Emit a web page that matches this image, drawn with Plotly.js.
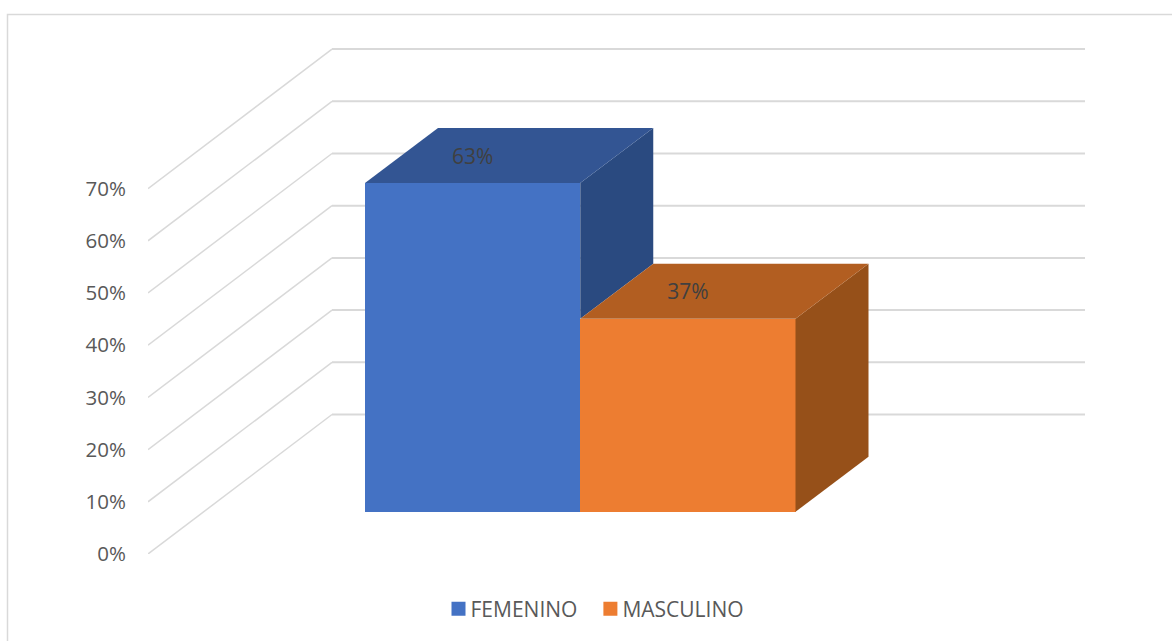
<!DOCTYPE html>
<html>
<head>
<meta charset="utf-8">
<script src="https://cdn.plot.ly/plotly-3.0.1.min.js"></script>
<style>html,body{margin:0;padding:0;background:#fff}#chart{width:1172px;height:641px}</style>
</head>
<body>
<div id="chart"></div>
<script>
const categories = ['FEMENINO', 'MASCULINO'];
const values = [63, 37];
const tickValues = [0, 10, 20, 30, 40, 50, 60, 70];
const frontColors = ['#4472C4', '#ED7D31'];
const topColors = ['#335593', '#B25E21'];
const sideColors = ['#2A4A80', '#965019'];

const W = 1172, H = 641;
const plotL = 148, plotR = 1085, plotT = 40, plotB = 554;
const pxPerX = 215.25, pxPerY = 5.22, bar0Left = 365;
const xMin = -0.5 - (bar0Left - plotL) / pxPerX;
const xMax = -0.5 + (plotR - bar0Left) / pxPerX;
const yMax = (plotB - plotT) / pxPerY;
const wallDx = 184 / pxPerX, wallDy = 139.5 / pxPerY;
const barDx = 73 / pxPerX, barDy = 55 / pxPerY;
const floorBase = 42.2 / pxPerY;
const labelLift = 24.5 / pxPerY;
const gridColor = '#D9D9D9', font = '"Open Sans", "Noto Sans", sans-serif';

const traces = [];
// Front faces are real bars
categories.forEach((name, i) => {
  traces.push({type: 'bar', x: [i], y: [values[i]], base: [floorBase], width: [1], name,
    marker: {color: frontColors[i], line: {width: 0}}, hoverinfo: 'name+y', showlegend: true});
});
// Side and top faces projected from the same values
function face(xs, ys, color) {
  traces.push({type: 'scatter', mode: 'lines', x: xs, y: ys, fill: 'toself', fillcolor: color,
    line: {width: 0, color}, hoverinfo: 'skip', showlegend: false, cliponaxis: false});
}
categories.forEach((name, i) => {
  const l = i - 0.5, r = i + 0.5, top = floorBase + values[i];
  // a side face is hidden below the top of the neighbouring bar in front of it
  const low = i + 1 < values.length ? floorBase + Math.min(values[i], values[i + 1]) : floorBase;
  face([r, r + barDx, r + barDx, r, r], [low, low + barDy, top + barDy, top, low], sideColors[i]);
  face([l, l + barDx, r + barDx, r, l], [top, top + barDy, top + barDy, top, top], topColors[i]);
});
// Value labels on the top faces
traces.push({type: 'scatter', mode: 'text', x: categories.map((c, i) => i),
  y: values.map(v => floorBase + v + labelLift), text: values.map(v => v + '%'),
  textposition: 'middle center', textfont: {family: font, size: 21, color: '#404040'},
  hoverinfo: 'skip', showlegend: false, cliponaxis: false});

// Walls: gridlines on side and back wall, under the bars
const shapes = [];
tickValues.forEach(v => {
  shapes.push({type: 'line', layer: 'below', xref: 'x', yref: 'y', x0: xMin, y0: v, x1: xMin + wallDx, y1: v + wallDy,
    line: {color: gridColor, width: 1.5}});
  shapes.push({type: 'line', layer: 'below', xref: 'x', yref: 'y', x0: xMin + wallDx, y0: v + wallDy, x1: xMax, y1: v + wallDy,
    line: {color: gridColor, width: 2}});
});
// Chart frame: top and left edges only
const px = x => (x - plotL) / (plotR - plotL);
const py = y => (plotB - y) / (plotB - plotT);
shapes.push({type: 'path', layer: 'below', xref: 'paper', yref: 'paper',
  path: `M${px(7.5)},${py(H)} L${px(7.5)},${py(14.5)} L${px(W)},${py(14.5)}`,
  line: {color: gridColor, width: 1.5}});

const layout = {
  width: W, height: H, paper_bgcolor: '#fff', plot_bgcolor: 'rgba(0,0,0,0)',
  margin: {l: plotL, r: W - plotR, t: plotT, b: H - plotB, pad: 0},
  barmode: 'overlay', bargap: 0, showlegend: true,
  xaxis: {range: [xMin, xMax], visible: false, fixedrange: true},
  yaxis: {range: [0, yMax], tickmode: 'array', tickvals: tickValues, ticktext: tickValues.map(v => v + '%'),
    showgrid: false, zeroline: false, showline: false, ticks: 'outside', ticklen: 17, tickcolor: 'rgba(0,0,0,0)',
    tickfont: {family: font, size: 20.5, color: '#595959'}, fixedrange: true},
  legend: {orientation: 'h', x: 430.5 / W, xanchor: 'left', xref: 'container', y: (H - 609) / H, yref: 'container', yanchor: 'middle',
    font: {family: font, size: 21, color: '#595959'}, bgcolor: 'rgba(0,0,0,0)', traceorder: 'normal'},
  shapes
};
Plotly.newPlot('chart', traces, layout, {displayModeBar: false, responsive: false}).then(() => {
  // legend swatches sit tight against their text and are slightly larger
  document.querySelectorAll('.legend .traces .legendsymbols').forEach(g => {
    g.setAttribute('transform', 'translate(4.67,0) scale(1.1667)');
  });
});
</script>
</body>
</html>
